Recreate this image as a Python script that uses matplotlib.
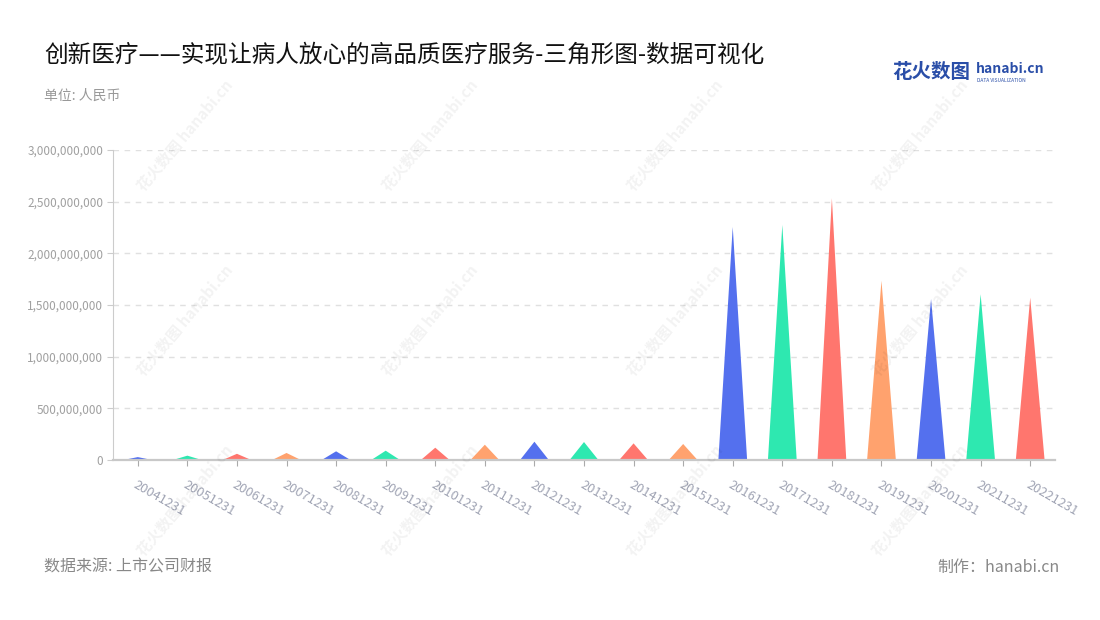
import matplotlib
matplotlib.use("Agg")
import matplotlib.pyplot as plt
from matplotlib.ticker import FuncFormatter, MultipleLocator

plt.rcParams["font.family"] = ["Noto Sans CJK SC", "DejaVu Sans"]

# 数据
years = [
    "20041231", "20051231", "20061231", "20071231", "20081231", "20091231",
    "20101231", "20111231", "20121231", "20131231", "20141231", "20151231",
    "20161231", "20171231", "20181231", "20191231", "20201231", "20211231",
    "20221231",
]
values = [
    28e6, 42e6, 60e6, 68e6, 84e6, 90e6,
    119e6, 148e6, 177e6, 174e6, 161e6, 155e6,
    2255e6, 2275e6, 2533e6, 1735e6, 1558e6, 1604e6,
    1571e6,
]
palette = ["#5470ee", "#2ee8b0", "#ff766e", "#ffa26e"]

TITLE = "创新医疗——实现让病人放心的高品质医疗服务-三角形图-数据可视化"
UNIT = "单位: 人民币"
SOURCE = "数据来源: 上市公司财报"
MAKER = "制作：hanabi.cn"

fig = plt.figure(figsize=(11, 6.2), dpi=100)
ax = fig.add_axes([113 / 1100, 160 / 620, 942 / 1100, 310 / 620])

w = 0.58
for i, v in enumerate(values):
    c = palette[i % len(palette)]
    ax.fill([i - w / 2, i, i + w / 2], [0, v, 0], color=c, lw=0, zorder=3)

ax.set_xlim(-0.5, len(years) - 0.5)
ax.set_ylim(0, 3e9)
ax.yaxis.set_major_locator(MultipleLocator(5e8))
ax.yaxis.set_major_formatter(FuncFormatter(lambda v, p: f"{int(v):,}"))
ax.grid(axis="y", color="#e0e0e0", ls=(0, (4, 4)), lw=1)
ax.set_axisbelow(True)

for s in ["top", "right"]:
    ax.spines[s].set_visible(False)
ax.spines["left"].set_color("#cccccc")
ax.spines["bottom"].set_color("#c8c8c8")
ax.spines["bottom"].set_linewidth(1.6)
ax.spines["bottom"].set_zorder(4)

ax.set_xticks(range(len(years)))
ax.set_xticklabels(years, rotation=-30, ha="left", va="top",
                   rotation_mode="anchor", fontsize=9.3, color="#a0a4b4")
ax.tick_params(axis="x", length=4, color="#aaaaaa", pad=9)
ax.tick_params(axis="y", length=4, color="#cccccc", labelsize=8.5,
               labelcolor="#a0a0a0", pad=3)

fig.text(44 / 1100, 1 - 55 / 620, TITLE, fontsize=17, color="#111111", va="center")
fig.text(44 / 1100, 1 - 96 / 620, UNIT, fontsize=10, color="#999999", va="center")
fig.text(44 / 1100, 1 - 567 / 620, SOURCE, fontsize=11.5, color="#888888", va="center")
fig.text(1060 / 1100, 1 - 567 / 620, MAKER, fontsize=11.5, color="#888888",
         va="center", ha="right")

# logo
fig.text(892 / 1100, 1 - 72 / 620, "花火数图", fontsize=14, color="#2a4ea8",
         fontweight="bold", va="center")
fig.text(976 / 1100, 1 - 69 / 620, "hanabi.cn", fontsize=10, color="#2a4ea8",
         fontweight="bold", va="center")
fig.text(977 / 1100, 1 - 80 / 620, "DATA VISUALIZATION", fontsize=3.5,
         color="#2a4ea8", va="center")

# 水印
for wx in [185, 430, 675, 920]:
    for wy in [135, 320, 500]:
        fig.text(wx / 1100, 1 - wy / 620, "花火数图 hanabi.cn", fontsize=11,
                 color="#000000", alpha=0.05, rotation=50, ha="center",
                 va="center", fontweight="bold")

fig.savefig("out.png", dpi=100)
